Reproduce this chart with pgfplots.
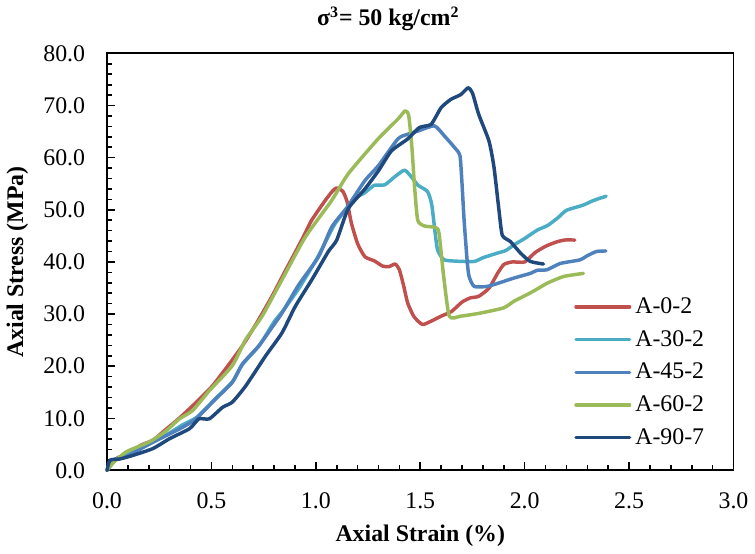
\documentclass[border=0pt]{standalone}
\usepackage{fontspec}
\setmainfont{Liberation Serif}
\usepackage{pgfplots}
\pgfplotsset{compat=1.18}
\definecolor{cRed}{HTML}{C0504D}
\definecolor{cCyan}{HTML}{4BACC6}
\definecolor{cBlue}{HTML}{4F81BD}
\definecolor{cGreen}{HTML}{9BBB59}
\definecolor{cDark}{HTML}{1F497D}
\begin{document}
\begin{tikzpicture}
\begin{axis}[
  scale only axis,
  width=315.5pt, height=210pt,
  xmin=0, xmax=3, ymin=0, ymax=80,
  xtick={0,0.5,...,3.0}, ytick={0,10,...,80},
  minor x tick num=4, minor y tick num=4,
  xtick pos=bottom, ytick pos=left,
  tick align=inside,
  major tick length=4pt, minor tick length=2.5pt,
  every tick/.style={black, line width=0.8pt},
  axis line style={black, line width=1pt},
  clip=false,
  ticklabel style={font=\fontsize{12}{14}\selectfont,
    /pgf/number format/assume math mode=true,
    /pgf/number format/fixed, /pgf/number format/fixed zerofill,
    /pgf/number format/precision=1},
  xticklabel style={yshift=-7.5pt},
  yticklabel style={xshift=-7.5pt},
  xlabel={\textbf{Axial Strain (\%)}},
  ylabel={\textbf{Axial Stress (MPa)}},
  label style={font=\fontsize{12}{14}\selectfont},
  xlabel style={at={(rel axis cs:0.5,-0.157)}, anchor=center},
  ylabel style={at={(rel axis cs:-0.143,0.5)}, anchor=center},
  legend style={draw=none, fill=none, at={(rel axis cs:0.742,0.43)}, anchor=north west,
    font=\fontsize{12}{14}\selectfont, row sep=3pt, inner sep=1pt},
  legend cell align=left,
  legend image code/.code={\draw[#1, line width=1.75pt] (0pt,0pt) -- (27pt,0pt);},
  every axis plot/.append style={line width=1.75pt, smooth, tension=0.35, line join=round, line cap=round},
]
\addplot[cRed] coordinates {
(0,0) (0.03,1.8) (0.06,2.6) (0.1,3.0) (0.16,4.8) (0.22,5.8) (0.28,7.8) (0.34,9.8) (0.41,12.4)
(0.5,16.0) (0.57,19.6) (0.65,24.0) (0.72,28.5) (0.79,33.4) (0.85,38.0) (0.89,41.0) (0.94,44.8)
(0.98,48.0) (1.045,51.8) (1.08,53.6) (1.10,54.2) (1.13,53.5) (1.15,51.5) (1.17,47.5) (1.20,43.5)
(1.235,41.0) (1.28,40.2) (1.32,39.2) (1.35,39.1) (1.38,39.6) (1.40,38.5) (1.42,35.5) (1.44,32.1)
(1.47,29.5) (1.51,28.0) (1.55,28.6) (1.60,29.6) (1.65,30.5) (1.70,32.3) (1.74,33.1) (1.78,33.4)
(1.83,35.0) (1.87,37.8) (1.90,39.5) (1.94,40.0) (2.00,40.0) (2.05,41.8) (2.10,43.0) (2.15,43.8)
(2.19,44.2) (2.24,44.2)
};
\addlegendentry{A-0-2}
\addplot[cCyan] coordinates {
(0,0) (0.04,2.0) (0.1,3.2) (0.2,5.0) (0.3,7.2) (0.36,8.7) (0.43,10.2) (0.52,13.8) (0.60,17.0)
(0.65,20.4) (0.73,24.0) (0.80,28.5) (0.84,30.5) (0.92,35.0) (1.01,41.0) (1.09,47.2) (1.16,50.8)
(1.20,52.5) (1.235,53.3) (1.28,54.7) (1.33,54.8) (1.38,56.4) (1.425,57.6) (1.46,56.2) (1.49,54.7)
(1.535,53.5) (1.555,51) (1.57,46) (1.583,42.3) (1.615,40.4) (1.70,40.1) (1.76,40.1) (1.80,40.8)
(1.87,41.7) (1.91,42.2) (1.95,43.3) (2.00,44.5) (2.06,46.1) (2.11,47.0) (2.16,48.5) (2.20,49.9)
(2.28,50.9) (2.33,51.8) (2.39,52.6)
};
\addlegendentry{A-30-2}
\addplot[cBlue] coordinates {
(0,0) (0.04,2.2) (0.1,2.8) (0.204,5.1) (0.30,7.0) (0.363,8.3) (0.426,9.9) (0.52,13.7) (0.60,16.9)
(0.648,20.4) (0.727,23.9) (0.80,28.0) (0.838,30.2) (0.918,35.6) (1.013,41.0) (1.076,46.7)
(1.15,50.5) (1.235,55.6) (1.30,58.5) (1.393,63.6) (1.44,64.5) (1.488,65.1) (1.568,66.1)
(1.615,64.2) (1.663,62.0) (1.69,60.4) (1.70,55) (1.71,48) (1.725,40) (1.734,37.2) (1.758,35.3)
(1.82,35.3) (1.88,36.0) (1.948,36.9) (2.027,37.8) (2.06,38.4) (2.107,38.5) (2.17,39.7)
(2.265,40.4) (2.30,41.2) (2.344,42.0) (2.389,42.1)
};
\addlegendentry{A-45-2}
\addplot[cGreen] coordinates {
(0,0) (0.03,1.5) (0.094,3.6) (0.204,5.5) (0.28,7.5) (0.347,9.9) (0.41,11.5) (0.49,15.3)
(0.60,20.1) (0.664,25.1) (0.743,29.6) (0.838,36.6) (0.95,44.8) (1.076,51.8) (1.155,56.9)
(1.298,63.6) (1.393,67.4) (1.428,69.0) (1.445,68.0) (1.46,62) (1.473,54.3) (1.488,48.0)
(1.52,46.9) (1.575,46.6) (1.59,45.5) (1.61,38) (1.639,29.6) (1.694,29.6) (1.79,30.2) (1.90,31.2)
(1.95,32.5) (2.01,33.7) (2.06,34.8) (2.107,35.9) (2.186,37.2) (2.281,37.8)
};
\addlegendentry{A-60-2}
\addplot[cDark] coordinates {
(0,0) (0.014,1.96) (0.062,2.2) (0.125,2.9) (0.22,4.2) (0.30,6.1) (0.395,8.0) (0.44,9.9)
(0.49,9.9) (0.553,12.1) (0.60,13.1) (0.664,16.2) (0.76,22.0) (0.838,26.4) (0.902,31.5)
(0.981,36.6) (1.06,42.0) (1.10,44.2) (1.155,50.2) (1.235,54.0) (1.30,57.5) (1.362,61.3)
(1.44,63.6) (1.496,65.8) (1.552,66.4) (1.60,69.6) (1.647,71.2) (1.694,72.1) (1.729,73.4)
(1.75,72.4) (1.78,68.3) (1.829,63.2) (1.853,58.2) (1.877,49.9) (1.893,45.1) (1.932,43.9)
(1.98,41.7) (2.027,40.1) (2.09,39.6)
};
\addlegendentry{A-90-7}
\node[font=\fontsize{12}{14}\selectfont\bfseries, anchor=center] at (rel axis cs:0.449,1.083)
  {σ\textsuperscript{3}= 50 kg/cm\textsuperscript{2}};
\path (rel axis cs:-0.1696,-0.183) (rel axis cs:1.027,1.124);
\end{axis}
\end{tikzpicture}
\end{document}
